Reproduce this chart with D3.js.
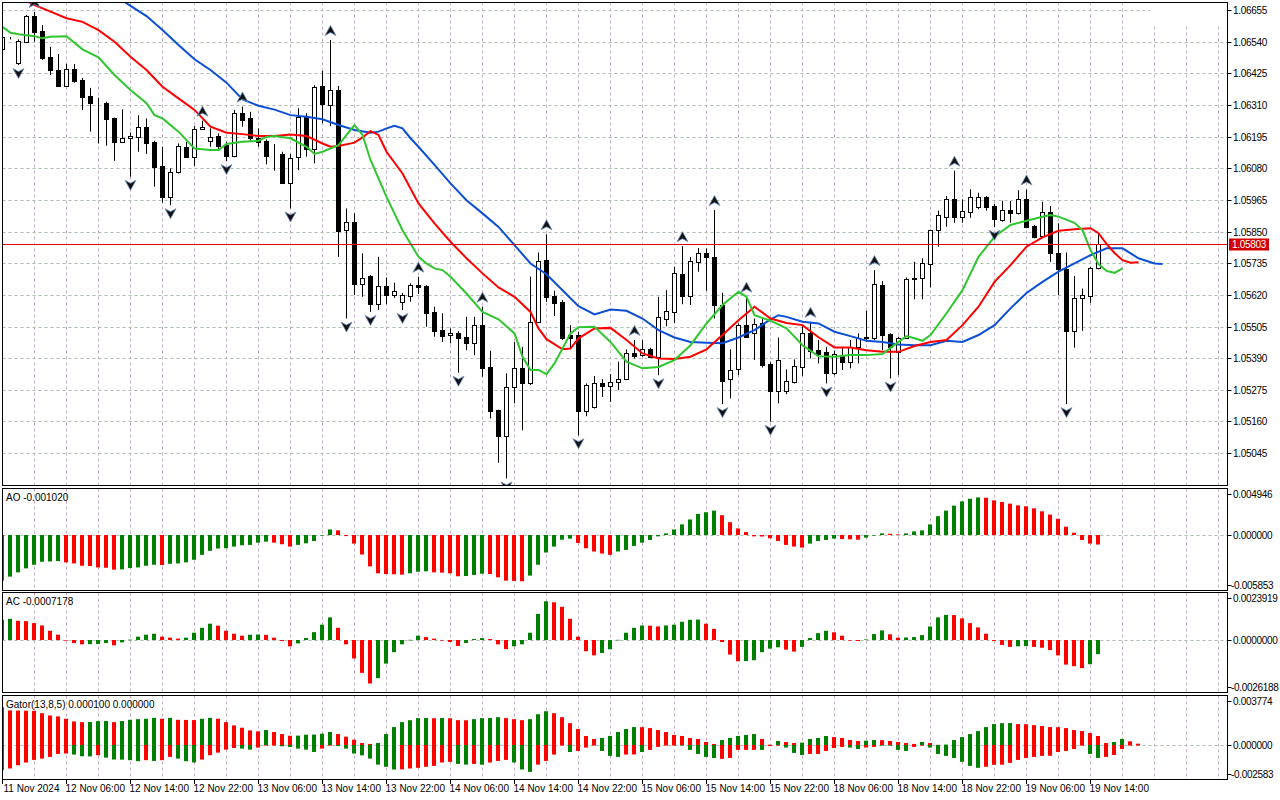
<!DOCTYPE html>
<meta charset="utf-8">
<head>
<title>EURUSD H1 - Alligator, Fractals, AO, AC, Gator</title>
<script src="https://d3js.org/d3.v7.min.js"></script>
<style>
  body { margin: 0; background: #ffffff; }
  text { font-family: "Liberation Sans", Arial, sans-serif; font-size: 10px; fill: #000; }
</style>
</head>
<body>
<svg width="1280" height="800"></svg>
<script>

// ---- data (H1 bars, index 0 = 11 Nov 2024 22:00) ----
var open = [1.06512,1.06552,1.06461,1.06540,1.06633,1.06579,1.06484,1.06437,1.06380,1.06439,
  1.06401,1.06342,1.06318,1.06316,1.06261,1.06176,1.06189,1.06194,1.06229,1.06176,
  1.06089,1.05976,1.06065,1.06158,1.06120,1.06221,1.06180,1.06197,1.06164,1.06125,
  1.06280,1.06264,1.06191,1.06179,1.06128,1.06132,1.06027,1.06120,1.06267,1.06149,
  1.06379,1.06310,1.06364,1.05855,1.05883,1.05658,1.05688,1.05585,1.05652,1.05618,
  1.05595,1.05615,1.05655,1.05652,1.05556,1.05492,1.05474,1.05482,1.05468,1.05446,
  1.05510,1.05358,1.05201,1.05107,1.05284,1.05353,1.05298,1.05522,1.05746,1.05615,
  1.05595,1.05474,1.05474,1.05199,1.05211,1.05298,1.05289,1.05304,1.05314,1.05409,
  1.05400,1.05424,1.05395,1.05534,1.05558,1.05695,1.05615,1.05740,1.05771,1.05758,
  1.05583,1.05313,1.05349,1.05510,1.05482,1.05516,1.05368,1.05271,1.05270,1.05304,
  1.05358,1.05483,1.05419,1.05413,1.05337,1.05401,1.05375,1.05431,1.05467,1.05464,
  1.05655,1.05477,1.05413,1.05464,1.05676,1.05683,1.05732,1.05855,1.05904,1.05967,
  1.05904,1.05922,1.05938,1.05976,1.05943,1.05892,1.05928,1.05916,1.05967,1.05870,
  1.05834,1.05922,1.05771,1.05713,1.05489,1.05607,1.05617,1.05716];
var high = [1.06564,1.06557,1.06548,1.06637,1.06648,1.06600,1.06521,1.06495,1.06459,1.06459,
  1.06408,1.06372,1.06336,1.06322,1.06264,1.06294,1.06210,1.06273,1.06261,1.06180,
  1.06158,1.06080,1.06170,1.06176,1.06233,1.06253,1.06225,1.06207,1.06176,1.06292,
  1.06304,1.06285,1.06225,1.06185,1.06168,1.06140,1.06132,1.06298,1.06280,1.06382,
  1.06434,1.06546,1.06379,1.05934,1.05916,1.05771,1.05692,1.05758,1.05683,1.05664,
  1.05627,1.05662,1.05686,1.05655,1.05577,1.05553,1.05498,1.05488,1.05540,1.05540,
  1.05577,1.05417,1.05203,1.05335,1.05449,1.05431,1.05686,1.05774,1.05840,1.05635,
  1.05601,1.05510,1.05486,1.05298,1.05325,1.05314,1.05332,1.05377,1.05422,1.05456,
  1.05456,1.05428,1.05613,1.05637,1.05722,1.05797,1.05758,1.05790,1.05789,1.05928,
  1.05627,1.05422,1.05516,1.05613,1.05534,1.05534,1.05377,1.05465,1.05349,1.05385,
  1.05506,1.05522,1.05456,1.05431,1.05417,1.05431,1.05456,1.05480,1.05562,1.05710,
  1.05670,1.05480,1.05468,1.05683,1.05740,1.05753,1.05857,1.05926,1.05979,1.06071,
  1.05967,1.06004,1.05991,1.05979,1.05950,1.05962,1.05961,1.06000,1.06003,1.05874,
  1.05958,1.05943,1.05880,1.05774,1.05688,1.05643,1.05722,1.05843];
var low = [1.06502,1.06548,1.06455,1.06535,1.06540,1.06473,1.06419,1.06379,1.06376,1.06391,
  1.06292,1.06213,1.06170,1.06162,1.06107,1.06173,1.06049,1.06140,1.06132,1.06013,
  1.05955,1.05946,1.06061,1.06120,1.06089,1.06219,1.06158,1.06149,1.06106,1.06120,
  1.06231,1.06176,1.06158,1.06094,1.06071,1.06025,1.05934,1.06073,1.06122,1.06098,
  1.06243,1.06233,1.05758,1.05534,1.05619,1.05613,1.05558,1.05565,1.05586,1.05609,
  1.05565,1.05595,1.05623,1.05504,1.05468,1.05449,1.05444,1.05337,1.05419,1.05401,
  1.05322,1.05171,1.05010,1.04953,1.05226,1.05128,1.05292,1.05518,1.05595,1.05543,
  1.05456,1.05425,1.05110,1.05179,1.05207,1.05249,1.05231,1.05274,1.05310,1.05389,
  1.05395,1.05393,1.05328,1.05506,1.05518,1.05586,1.05583,1.05704,1.05635,1.05534,
  1.05223,1.05244,1.05328,1.05465,1.05383,1.05356,1.05159,1.05226,1.05259,1.05298,
  1.05326,1.05389,1.05371,1.05298,1.05328,1.05347,1.05353,1.05371,1.05449,1.05456,
  1.05419,1.05316,1.05328,1.05462,1.05604,1.05604,1.05647,1.05795,1.05867,1.05882,
  1.05882,1.05900,1.05931,1.05926,1.05867,1.05886,1.05882,1.05912,1.05862,1.05825,
  1.05830,1.05740,1.05619,1.05223,1.05428,1.05489,1.05591,1.05712];
var close = [1.06556,1.06553,1.06541,1.06633,1.06576,1.06479,1.06437,1.06380,1.06439,1.06397,
  1.06340,1.06318,1.06317,1.06258,1.06176,1.06189,1.06197,1.06229,1.06173,1.06085,
  1.05976,1.06065,1.06161,1.06122,1.06221,1.06231,1.06192,1.06161,1.06125,1.06280,
  1.06255,1.06189,1.06176,1.06125,1.06127,1.06027,1.06116,1.06267,1.06149,1.06374,
  1.06312,1.06364,1.05852,1.05883,1.05658,1.05683,1.05585,1.05652,1.05618,1.05633,
  1.05618,1.05654,1.05648,1.05555,1.05489,1.05471,1.05482,1.05464,1.05446,1.05510,
  1.05355,1.05199,1.05108,1.05284,1.05353,1.05298,1.05522,1.05744,1.05613,1.05589,
  1.05462,1.05465,1.05199,1.05292,1.05298,1.05289,1.05302,1.05316,1.05409,1.05397,
  1.05422,1.05395,1.05538,1.05561,1.05698,1.05615,1.05743,1.05771,1.05756,1.05583,
  1.05308,1.05347,1.05510,1.05468,1.05514,1.05365,1.05271,1.05383,1.05306,1.05361,
  1.05483,1.05417,1.05405,1.05337,1.05405,1.05377,1.05431,1.05465,1.05464,1.05659,
  1.05474,1.05431,1.05465,1.05676,1.05683,1.05734,1.05855,1.05910,1.05967,1.05904,
  1.05924,1.05974,1.05976,1.05940,1.05894,1.05928,1.05916,1.05967,1.05867,1.05831,
  1.05922,1.05771,1.05713,1.05489,1.05607,1.05619,1.05716,1.05803];

// fractal bars
var fractalUp = [4,25,30,41,52,60,68,79,85,89,93,101,109,119,128];
var fractalDown = [2,16,21,28,36,43,46,50,57,63,72,82,90,96,103,111,124,133];

// Alligator lines, [bar position incl. forward shift, price]
var jaw = [[14,1.06709],[16,1.06670],[18,1.06633],[20,1.06582],[22,1.06528],[24,1.06476],[26,1.06437],
  [28,1.06391],[30,1.06330],[32,1.06307],[34,1.06293],[36,1.06273],[38,1.06267],[40,1.06258],
  [42,1.06237],[44,1.06219],[46,1.06209],[47,1.06213],[48,1.06225],[49,1.06234],[50,1.06225],
  [51,1.06189],[52,1.06158],[54,1.06092],[56,1.06025],[58,1.05964],[60,1.05916],[62,1.05867],
  [64,1.05801],[66,1.05734],[68,1.05695],[70,1.05637],[72,1.05579],[74,1.05549],[76,1.05567],
  [78,1.05562],[80,1.05534],[82,1.05492],[84,1.05465],[86,1.05449],[88,1.05446],[90,1.05444],
  [92,1.05465],[94,1.05492],[96,1.05531],[97,1.05546],[98,1.05540],[100,1.05522],[102,1.05516],
  [104,1.05486],[106,1.05470],[108,1.05453],[110,1.05449],[112,1.05440],[114,1.05437],[116,1.05437],
  [118,1.05453],[120,1.05449],[122,1.05474],[124,1.05510],[126,1.05571],[128,1.05627],[130,1.05667],
  [132,1.05704],[134,1.05734],[136,1.05764],[138,1.05789],[140,1.05789],[142,1.05753],[144,1.05734],
  [145,1.05732]];
var teeth = [[2,1.06702],[4,1.06673],[6,1.06649],[8,1.06625],[10,1.06612],[12,1.06582],[14,1.06540],
  [16,1.06485],[18,1.06437],[20,1.06376],[22,1.06334],[24,1.06292],[26,1.06231],[28,1.06209],
  [30,1.06204],[32,1.06197],[34,1.06197],[36,1.06203],[38,1.06197],[40,1.06170],[41,1.06158],
  [42,1.06161],[44,1.06173],[45,1.06192],[46,1.06215],[47,1.06201],[48,1.06140],[50,1.06061],
  [52,1.05952],[54,1.05880],[56,1.05813],[58,1.05753],[60,1.05698],[62,1.05647],[64,1.05613],
  [66,1.05558],[67,1.05498],[68,1.05459],[70,1.05422],[71,1.05425],[72,1.05462],[74,1.05498],
  [76,1.05500],[78,1.05456],[80,1.05407],[82,1.05389],[84,1.05387],[86,1.05395],[88,1.05422],
  [90,1.05474],[92,1.05528],[94,1.05577],[96,1.05534],[98,1.05518],[100,1.05510],[102,1.05466],
  [104,1.05429],[106,1.05429],[108,1.05419],[110,1.05413],[112,1.05413],[114,1.05434],[116,1.05449],
  [118,1.05456],[120,1.05510],[122,1.05577],[124,1.05667],[126,1.05728],[128,1.05795],[130,1.05829],
  [132,1.05853],[134,1.05858],[136,1.05862],[137,1.05844],[138,1.05805],[139,1.05772],[140,1.05746],
  [141,1.05737],[142,1.05738]];
var lips = [[0,1.06594],[1,1.06572],[2,1.06567],[4,1.06560],[5,1.06552],[6,1.06558],[8,1.06560],
  [10,1.06512],[12,1.06483],[14,1.06419],[16,1.06364],[18,1.06316],[19,1.06273],[20,1.06261],
  [22,1.06213],[24,1.06152],[26,1.06146],[27,1.06146],[28,1.06168],[30,1.06176],[32,1.06180],
  [33,1.06194],[34,1.06197],[36,1.06189],[38,1.06158],[39,1.06132],[40,1.06140],[42,1.06164],
  [43,1.06201],[44,1.06237],[45,1.06201],[46,1.06110],[48,1.05976],[50,1.05855],[52,1.05758],
  [53,1.05734],[54,1.05716],[55,1.05710],[56,1.05686],[58,1.05625],[60,1.05558],[62,1.05531],
  [64,1.05480],[65,1.05395],[66,1.05347],[67,1.05347],[68,1.05332],[69,1.05371],[70,1.05425],
  [71,1.05480],[72,1.05502],[74,1.05504],[76,1.05449],[78,1.05377],[80,1.05353],[82,1.05358],
  [84,1.05383],[86,1.05437],[88,1.05516],[90,1.05583],[92,1.05631],[93,1.05613],[94,1.05546],
  [96,1.05526],[98,1.05498],[100,1.05437],[102,1.05397],[104,1.05395],[106,1.05401],[108,1.05401],
  [110,1.05405],[112,1.05449],[113,1.05470],[114,1.05462],[115,1.05453],[116,1.05474],[118,1.05553],
  [120,1.05637],[122,1.05758],[124,1.05831],[126,1.05874],[128,1.05889],[130,1.05904],[131,1.05910],
  [132,1.05904],[134,1.05882],[135,1.05855],[136,1.05783],[137,1.05732],[138,1.05707],[139,1.05700],
  [140,1.05716]];

var ao = [-0.00490,-0.00447,-0.00401,-0.00358,-0.00319,-0.00287,-0.00284,-0.00280,-0.00294,-0.00305,
  -0.00330,-0.00333,-0.00348,-0.00351,-0.00372,-0.00369,-0.00355,-0.00348,-0.00330,-0.00319,
  -0.00323,-0.00309,-0.00305,-0.00294,-0.00266,-0.00213,-0.00170,-0.00145,-0.00142,-0.00124,
  -0.00110,-0.00106,-0.00082,-0.00071,-0.00082,-0.00099,-0.00124,-0.00106,-0.00089,-0.00064,
  -0.00004,0.00060,0.00050,-0.00011,-0.00092,-0.00209,-0.00337,-0.00411,-0.00419,-0.00422,
  -0.00426,-0.00411,-0.00394,-0.00390,-0.00401,-0.00404,-0.00411,-0.00443,-0.00440,-0.00429,
  -0.00415,-0.00419,-0.00454,-0.00490,-0.00493,-0.00497,-0.00436,-0.00319,-0.00188,-0.00124,
  -0.00050,-0.00039,-0.00085,-0.00142,-0.00177,-0.00199,-0.00213,-0.00177,-0.00160,-0.00117,
  -0.00082,-0.00053,-0.00014,0.00018,0.00060,0.00114,0.00167,0.00227,0.00245,0.00262,
  0.00213,0.00138,0.00071,0.00032,-0.00014,-0.00016,-0.00035,-0.00064,-0.00106,-0.00124,
  -0.00135,-0.00092,-0.00064,-0.00053,-0.00039,-0.00043,-0.00046,-0.00050,-0.00028,-0.00004,
  0.00018,0.00014,0.00007,0.00018,0.00039,0.00050,0.00114,0.00202,0.00262,0.00316,
  0.00362,0.00390,0.00404,0.00401,0.00372,0.00355,0.00337,0.00319,0.00309,0.00287,
  0.00255,0.00220,0.00174,0.00089,0.00025,-0.00053,-0.00092,-0.00102];

var ac = [0.00103,0.00108,0.00098,0.00096,0.00086,0.00074,0.00047,0.00027,-0.00001,-0.00015,
  -0.00022,-0.00021,-0.00020,-0.00015,-0.00027,-0.00012,0.00002,0.00017,0.00027,0.00032,
  0.00017,0.00012,0.00007,0.00012,0.00037,0.00062,0.00083,0.00073,0.00047,0.00032,
  0.00022,0.00027,0.00028,0.00026,0.00012,-0.00005,-0.00032,-0.00017,0.00010,0.00040,
  0.00078,0.00115,0.00062,-0.00022,-0.00094,-0.00167,-0.00221,-0.00194,-0.00120,-0.00062,
  -0.00022,0.00001,0.00022,0.00015,0.00007,-0.00001,-0.00010,-0.00030,-0.00015,0.00005,
  0.00010,0.00005,-0.00022,-0.00046,-0.00032,-0.00022,0.00037,0.00133,0.00197,0.00192,
  0.00169,0.00108,0.00017,-0.00057,-0.00078,-0.00066,-0.00047,0.00001,0.00037,0.00062,
  0.00074,0.00073,0.00069,0.00074,0.00078,0.00093,0.00103,0.00104,0.00083,0.00057,
  -0.00010,-0.00074,-0.00108,-0.00107,-0.00103,-0.00062,-0.00044,-0.00037,-0.00049,-0.00059,
  -0.00035,0.00010,0.00035,0.00047,0.00039,0.00022,-0.00001,-0.00005,0.00003,0.00030,
  0.00049,0.00029,0.00012,0.00013,0.00015,0.00025,0.00069,0.00115,0.00128,0.00127,
  0.00110,0.00086,0.00064,0.00032,-0.00005,-0.00025,-0.00035,-0.00032,-0.00031,-0.00035,
  -0.00039,-0.00051,-0.00078,-0.00125,-0.00133,-0.00143,-0.00123,-0.00072];

var gatorUp = [0.00291,0.00266,0.00265,0.00264,0.00263,0.00245,0.00227,0.00220,0.00202,0.00181,
  0.00176,0.00177,0.00184,0.00185,0.00176,0.00184,0.00194,0.00199,0.00202,0.00209,
  0.00202,0.00209,0.00194,0.00193,0.00192,0.00202,0.00209,0.00202,0.00176,0.00151,
  0.00133,0.00112,0.00105,0.00115,0.00100,0.00084,0.00071,0.00072,0.00079,0.00080,
  0.00087,0.00100,0.00084,0.00064,0.00041,0.00015,0.00008,0.00015,0.00084,0.00138,
  0.00176,0.00191,0.00207,0.00208,0.00206,0.00208,0.00206,0.00191,0.00190,0.00199,
  0.00207,0.00208,0.00214,0.00207,0.00199,0.00191,0.00199,0.00237,0.00260,0.00245,
  0.00214,0.00168,0.00123,0.00069,0.00046,0.00054,0.00069,0.00100,0.00123,0.00138,
  0.00137,0.00130,0.00115,0.00100,0.00077,0.00069,0.00054,0.00046,0.00023,0.00008,
  0.00038,0.00054,0.00069,0.00077,0.00084,0.00046,0.00002,0.00031,0.00023,0.00015,
  0.00018,0.00046,0.00054,0.00069,0.00061,0.00054,0.00038,0.00031,0.00033,0.00038,
  0.00037,0.00031,0.00023,0.00015,0.00008,0.00023,0.00015,0.00001,0.00003,0.00038,
  0.00061,0.00084,0.00107,0.00138,0.00161,0.00168,0.00169,0.00161,0.00160,0.00153,
  0.00146,0.00138,0.00137,0.00130,0.00115,0.00107,0.00092,0.00069,0.00015,0.00023,
  0.00046,0.00028,0.00010];
var gatorDown = [-0.00194,-0.00181,-0.00156,-0.00135,-0.00115,-0.00105,-0.00092,-0.00069,-0.00066,-0.00074,
  -0.00087,-0.00088,-0.00079,-0.00097,-0.00112,-0.00113,-0.00117,-0.00125,-0.00117,-0.00123,
  -0.00117,-0.00092,-0.00105,-0.00125,-0.00135,-0.00112,-0.00079,-0.00059,-0.00036,-0.00023,
  -0.00028,-0.00036,-0.00020,-0.00002,-0.00001,-0.00010,-0.00015,-0.00028,-0.00036,-0.00054,
  -0.00028,-0.00005,-0.00008,-0.00028,-0.00066,-0.00080,-0.00105,-0.00151,-0.00168,-0.00189,
  -0.00188,-0.00181,-0.00176,-0.00168,-0.00161,-0.00135,-0.00130,-0.00146,-0.00151,-0.00146,
  -0.00152,-0.00135,-0.00123,-0.00115,-0.00135,-0.00189,-0.00207,-0.00151,-0.00123,-0.00074,
  -0.00002,-0.00054,-0.00046,-0.00020,-0.00001,-0.00046,-0.00084,-0.00092,-0.00074,-0.00073,
  -0.00054,-0.00038,-0.00015,-0.00002,-0.00001,-0.00002,-0.00038,-0.00069,-0.00092,-0.00100,
  -0.00107,-0.00100,-0.00038,-0.00038,-0.00038,-0.00038,-0.00008,-0.00002,-0.00020,-0.00061,
  -0.00077,-0.00069,-0.00069,-0.00046,-0.00023,-0.00015,-0.00020,-0.00031,-0.00020,-0.00015,
  -0.00005,-0.00005,-0.00038,-0.00046,-0.00015,-0.00001,-0.00020,-0.00069,-0.00084,-0.00100,
  -0.00130,-0.00161,-0.00176,-0.00168,-0.00153,-0.00152,-0.00138,-0.00115,-0.00100,-0.00092,
  -0.00084,-0.00083,-0.00054,-0.00046,-0.00031,-0.00005,-0.00069,-0.00100,-0.00092,-0.00077,
  -0.00031,-0.00003,0];
// g = rising (green), r = falling (red), one letter per bar
var gatorUpColor = "grrrrrrrrr" + "rgggrggggg" + "rgrrrggrrr" + "rrrgrrrggg" + "ggrrrrrggg" +
  "ggggrgrrrg" + "gggrrrgggr" + "rrrrrggggg" + "rrrrrrrrrr" + "gggggrrgrr" +
  "ggggrrrrgg" + "rrrrrgrrgg" + "gggggggrrr" + "rrrrrrrrrg" + "grr";
var gatorDownColor = "rrrrrrrrrg" + "ggrgggggrg" + "rrgggrrrrr" + "ggrrrggggg" + "rrgggggggg" +
  "rrrrrrrggr" + "grrrgggrrr" + "rgrrrgggrr" + "grrrrggggg" + "rrrrrgrrgg" +
  "grrrrrggrr" + "ggggrrgggg" + "gggrrrrrrr" + "rrrrrrggrr" + "rrr";

var priceTicks = [1.06655,1.06540,1.06425,1.06310,1.06195,1.06080,1.05965,1.05850,1.05735,
  1.05620,1.05505,1.05390,1.05275,1.05160,1.05045];
var timeTickBars = [0,8,16,24,32,40,48,56,64,72,80,88,96,104,112,120,128,136];
var timeLabels = ["11 Nov 2024","12 Nov 06:00","12 Nov 14:00","12 Nov 22:00","13 Nov 06:00",
  "13 Nov 14:00","13 Nov 22:00","14 Nov 06:00","14 Nov 14:00","14 Nov 22:00","15 Nov 06:00",
  "15 Nov 14:00","15 Nov 22:00","18 Nov 06:00","18 Nov 14:00","18 Nov 22:00","19 Nov 06:00",
  "19 Nov 14:00"];
var lastPrice = 1.05803;

// ---- layout ----
var svg = d3.select("svg");
var L = 2.5, R = 1227.5;
var panels = {
  main:  {top: 2.5,   bottom: 485.5},
  ao:    {top: 488.5, bottom: 590.5, min: -0.005853, max: 0.004946, fmt: d3.format(".6f"),
          name: "AO -0.001020"},
  ac:    {top: 592.5, bottom: 692.5, min: -0.0026188, max: 0.0023919, fmt: d3.format(".7f"),
          name: "AC -0.0007178"},
  gator: {top: 695.5, bottom: 779.5, min: -0.002583, max: 0.003774, fmt: d3.format(".6f"),
          name: "Gator(13,8,5) 0.000100 0.000000"}
};
var GREEN = "#008000", RED = "#ff0000";

var x = d3.scaleLinear().domain([0, 1]).range([2.5, 10.5]);
var y = d3.scaleLinear().domain([1.05045, 1.06655]).range([453.1, 10]);

var defs = svg.append("defs");
Object.keys(panels).forEach(function(k) {
  var p = panels[k];
  defs.append("clipPath").attr("id", "clip-" + k)
    .append("rect").attr("x", L + 0.5).attr("y", p.top + 0.5)
    .attr("width", R - L - 1).attr("height", p.bottom - p.top - 1);
});

// vertical grid, every 4 bars, in all panels
Object.keys(panels).forEach(function(k) {
  var p = panels[k];
  svg.append("g").attr("clip-path", "url(#clip-" + k + ")")
    .selectAll("line").data(d3.range(4, 153, 4)).enter().append("line")
    .attr("x1", function(d) { return x(d); }).attr("x2", function(d) { return x(d); })
    .attr("y1", p.top).attr("y2", p.bottom)
    .attr("stroke", "#c4aec4").attr("stroke-dasharray", "3,3");
});

// main horizontal grid
svg.append("g").attr("clip-path", "url(#clip-main)")
  .selectAll("line").data(priceTicks).enter().append("line")
  .attr("x1", L).attr("x2", R)
  .attr("y1", function(d) { return Math.round(y(d)) + 0.5; })
  .attr("y2", function(d) { return Math.round(y(d)) + 0.5; })
  .attr("stroke", "#aebcae").attr("stroke-dasharray", "3,3");

// blank corner in top right
svg.append("rect").attr("x", 1150).attr("y", 3).attr("width", 77).attr("height", 21).attr("fill", "#fff");

// ---- main chart ----
var main = svg.append("g").attr("clip-path", "url(#clip-main)");
var idx = d3.range(open.length);

main.selectAll(".wick").data(idx).enter().append("line")
  .attr("x1", function(i) { return x(i); }).attr("x2", function(i) { return x(i); })
  .attr("y1", function(i) { return y(high[i]); })
  .attr("y2", function(i) { return y(low[i]); })
  .attr("stroke", "#000").attr("stroke-width", 1);

main.selectAll(".body").data(idx).enter().append("rect")
  .attr("x", function(i) { return x(i) - 2; })
  .attr("y", function(i) { return Math.round(y(Math.max(open[i], close[i]))) + 0.5; })
  .attr("width", 4)
  .attr("height", function(i) {
    return Math.max(0, Math.round(y(Math.min(open[i], close[i]))) - Math.round(y(Math.max(open[i], close[i]))));
  })
  .attr("fill", function(i) { return close[i] >= open[i] ? "#fff" : "#000"; })
  .attr("stroke", "#000");

var line = d3.line().x(function(d) { return x(d[0]); }).y(function(d) { return y(d[1]); });
[[jaw, "#0b4fd6"], [teeth, "#ff0000"], [lips, "#2fc62f"]].forEach(function(s) {
  main.append("path").datum(s[0]).attr("d", line)
    .attr("fill", "none").attr("stroke", s[1]).attr("stroke-width", 2);
});

// fractal arrows (dart shape, tip away from the bar)
var dart = "M0,-5.5 L5.5,4.5 L0,1.5 L-5.5,4.5Z";
main.selectAll(".fup").data(fractalUp).enter().append("path")
  .attr("d", dart)
  .attr("transform", function(i) { return "translate(" + x(i) + "," + (y(high[i]) - 9) + ")"; })
  .attr("fill", "#111").attr("stroke", "#6f8fc4").attr("stroke-width", 0.8);
main.selectAll(".fdn").data(fractalDown).enter().append("path")
  .attr("d", dart)
  .attr("transform", function(i) { return "translate(" + x(i) + "," + (y(low[i]) + 8) + ") scale(1,-1)"; })
  .attr("fill", "#111").attr("stroke", "#6f8fc4").attr("stroke-width", 0.8);

// current price line
var yLast = Math.round(y(lastPrice)) + 0.5;
svg.append("line").attr("x1", L).attr("x2", R).attr("y1", yLast).attr("y2", yLast)
  .attr("stroke", "#e00000").attr("stroke-width", 1);

// ---- indicator histograms ----
function histogram(key, values) {
  var p = panels[key];
  var s = d3.scaleLinear().domain([p.min, p.max]).range([p.bottom - 1, p.top + 0.5]);
  p.scale = s;
  var g = svg.append("g").attr("clip-path", "url(#clip-" + key + ")");
  var z = Math.round(s(0)) + 0.5;
  g.append("line").attr("x1", L).attr("x2", R).attr("y1", z).attr("y2", z)
    .attr("stroke", "#aebcae").attr("stroke-dasharray", "3,3");
  values.forEach(function(series) {
    g.selectAll(null).data(series.v).enter().append("rect")
      .attr("x", function(d, i) { return x(i) - 2.5; })
      .attr("width", 4)
      .attr("y", function(d) { return Math.min(s(d), s(0)); })
      .attr("height", function(d) { return Math.max(0.6, Math.abs(s(d) - s(0))); })
      .attr("fill", function(d, i) { return series.c(d, i); });
  });
}
histogram("ao", [{v: ao, c: function(d, i) { return i === 0 || d > ao[i - 1] ? GREEN : RED; }}]);
histogram("ac", [{v: ac, c: function(d, i) { return i === 0 || d > ac[i - 1] ? GREEN : RED; }}]);
histogram("gator", [
  {v: gatorUp, c: function(d, i) { return gatorUpColor[i] === "g" ? GREEN : RED; }},
  {v: gatorDown, c: function(d, i) { return gatorDownColor[i] === "g" ? GREEN : RED; }}
]);

// ---- frames ----
Object.keys(panels).forEach(function(k) {
  var p = panels[k];
  svg.append("rect").attr("x", L).attr("y", p.top).attr("width", R - L).attr("height", p.bottom - p.top)
    .attr("fill", "none").attr("stroke", "#000");
});

// ---- price axis ----
var axis = svg.append("g");
priceTicks.forEach(function(t) {
  var yy = Math.round(y(t)) + 0.5;
  axis.append("line").attr("x1", R).attr("x2", R + 4).attr("y1", yy).attr("y2", yy).attr("stroke", "#000");
  axis.append("text").attr("x", 1233).attr("y", yy + 3.5).attr("letter-spacing", "-0.3").text(d3.format(".5f")(t));
});
axis.append("rect").attr("x", 1229).attr("y", yLast - 6).attr("width", 40).attr("height", 12).attr("fill", "#d10000");
axis.append("text").attr("x", 1232).attr("y", yLast + 3.5).attr("letter-spacing", "-0.3")
  .style("fill", "#fff").text(d3.format(".5f")(lastPrice));

// indicator scales and names
["ao", "ac", "gator"].forEach(function(k) {
  var p = panels[k];
  var rows = [[p.max, p.top + 5], [0, p.scale(0)], [p.min, p.bottom - 6]];
  rows.forEach(function(r) {
    var yy = Math.round(r[1]) + 0.5;
    axis.append("line").attr("x1", R).attr("x2", R + 4).attr("y1", yy).attr("y2", yy).attr("stroke", "#000");
    axis.append("text").attr("x", r[0] < 0 ? 1231 : 1233).attr("y", yy + 3.5).attr("letter-spacing", "-0.3")
      .text(p.fmt(r[0]).replace("−", "-"));
  });
  svg.append("text").attr("x", 6).attr("y", p.top + 12).text(p.name);
});

// ---- time axis ----
timeTickBars.forEach(function(b, i) {
  var xx = x(b);
  axis.append("line").attr("x1", xx).attr("x2", xx).attr("y1", 779.5).attr("y2", 784).attr("stroke", "#000");
  axis.append("text").attr("x", xx + (i === 0 ? 1 : -1)).attr("y", 792).text(timeLabels[i]);
});
</script>
</body>
